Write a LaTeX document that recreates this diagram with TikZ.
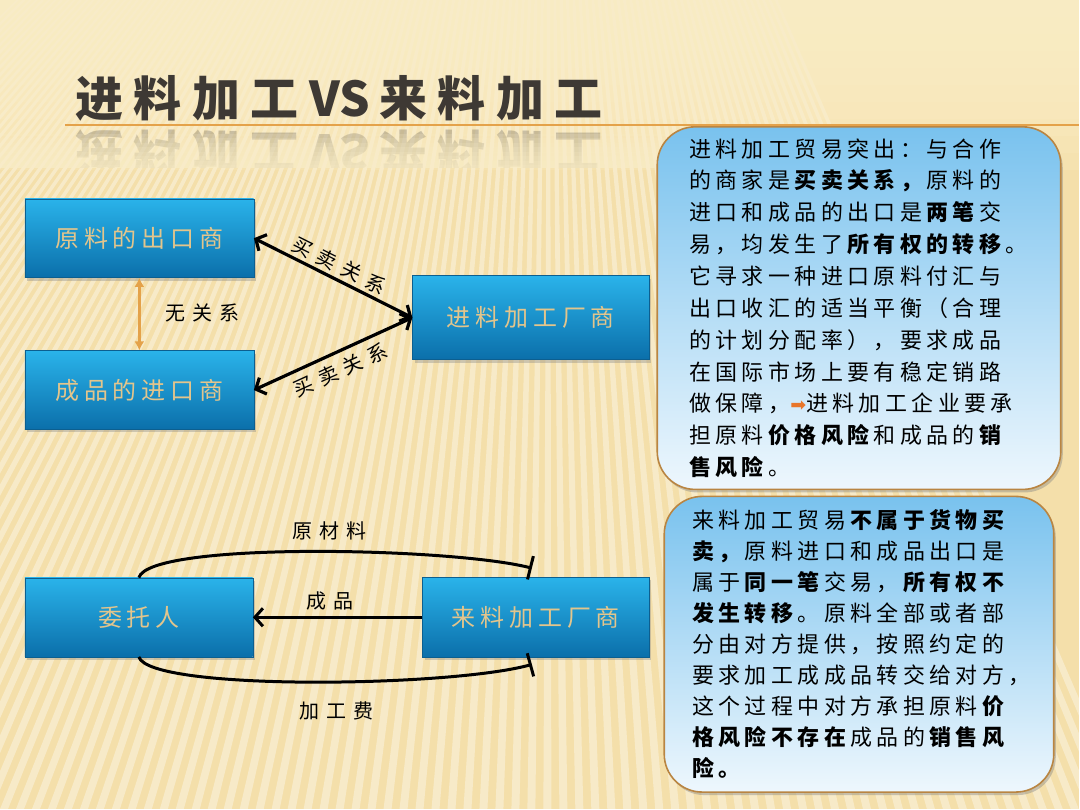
\documentclass[tikz,border=0pt]{standalone}
\usepackage{fontspec}
\setmainfont{Noto Sans CJK SC}
\newfontfamily\cjk[LetterSpace=20]{Noto Sans CJK SC}
\newfontfamily\cjkwide[LetterSpace=36]{Noto Sans CJK SC}
\newfontfamily\titlefont[LetterSpace=22]{Noto Sans CJK SC}
\newfontfamily\titlelatin{Noto Sans CJK SC}
\newfontfamily\symfont{DejaVu Sans}
\usetikzlibrary{positioning,arrows.meta,shadows}

\definecolor{bgcream}{HTML}{F4DFAA}
\definecolor{bgtop}{HTML}{FCEFC8}
\definecolor{boxtop}{HTML}{2AB3EA}
\definecolor{boxbot}{HTML}{0B6FAA}
\definecolor{boxedge}{HTML}{0C5F90}
\definecolor{boxtext}{HTML}{E3C58C}
\definecolor{notetop}{HTML}{79C2EE}
\definecolor{notebot}{HTML}{EEF7FD}
\definecolor{noteedge}{HTML}{B98542}
\definecolor{titlegray}{HTML}{3E3934}
\definecolor{rulecolor}{HTML}{E4A24A}
\definecolor{bulletorange}{HTML}{E8762A}

\newcommand{\slidetitle}{进料加工\hspace{11pt}{\titlelatin VS}\hspace{9pt}来料加工}

\begin{document}
\begin{tikzpicture}[x=1pt, y=1pt, >=Latex,
  bluebox/.style={draw=boxedge, top color=boxtop, bottom color=boxbot, minimum width=229pt, minimum height=79pt, inner sep=0pt, text=boxtext, font=\cjk\fontsize{24}{28}\selectfont, drop shadow={opacity=.35, shadow xshift=2pt, shadow yshift=-3pt}},
  note/.style={rounded corners=38pt, draw=noteedge, line width=1.6pt, top color=notetop, bottom color=notebot, inner sep=0pt, align=left, text=black, drop shadow={opacity=.4, shadow xshift=2pt, shadow yshift=-3pt}},
  lbl/.style={inner sep=0pt, font=\cjkwide\fontsize{20}{24}\selectfont},
  trade/.style={line width=3.2pt, {Straight Barb[length=8pt,width=18pt]}-{Straight Barb[length=8pt,width=18pt]}},
  flow/.style={line width=3pt, -{Bar[width=24pt]}}]

  % background
  \fill[bgcream] (0,0) rectangle (1080,810);
  \begin{scope}
    \clip (0,0) rectangle (1080,810);
    \foreach \x in {-800,-784,...,1120}
      \fill[white, opacity=.36] (\x,0) -- ++(8,0) -- (550,1340) -- cycle;
  \end{scope}
  \foreach \i in {0,...,9}
    \fill[bgtop, opacity=.2] (0,{640+17*\i}) rectangle (1080,810);

  % title
  \node[anchor=base west, inner sep=0pt, text=titlegray, font=\titlefont\bfseries\fontsize{48}{52}\selectfont] (title) at (75,693) {\slidetitle};
  \begin{scope}
    \clip (0,642) rectangle (700,684);
    \node[anchor=base west, inner sep=0pt, yscale=-1, transform shape, text=titlegray, opacity=.25, font=\titlefont\bfseries\fontsize{48}{52}\selectfont] (titlerefl) at (75,675) {\slidetitle};
    \foreach \i in {0,...,7}
      \fill[bgtop, opacity=.18] (0,642) rectangle (700,{676-4.5*\i});
  \end{scope}
  \draw[rulecolor, line width=2.5pt] (65,685) -- (1080,685);

  % 进料加工
  \node[bluebox] (ylck) at (139.5,571.5) {原料的出口商};
  \node[bluebox] (cpjk) at (139.5,419.5) {成品的进口商};
  \node[bluebox, minimum width=237pt, minimum height=84pt] (jlcs) at (531.5,492) {进料加工厂商};

  \draw[rulecolor, line width=3pt, {Latex[length=9pt,width=10pt]}-{Latex[length=9pt,width=10pt]}] (ylck.south) -- (cpjk.north);
  \node[lbl] (wgx) at (203,497) {无关系};
  \draw[trade] (ylck.east) -- node[lbl, sloped, above=3pt] (mmgx1) {买卖关系} (jlcs.west);
  \draw[trade] (cpjk.east) -- node[lbl, sloped, below=7pt] (mmgx2) {买卖关系} (jlcs.west);

  % 来料加工
  \node[bluebox, minimum width=228pt] (wtr) at (139,192) {委托人};
  \node[bluebox, minimum width=227pt, minimum height=80pt] (llcs) at (536.5,192) {来料加工厂商};
  \coordinate (yclend) at ([shift={(-4pt,9pt)}]llcs.north);
  \coordinate (jgfend) at ([shift={(-4pt,-7pt)}]llcs.south);

  \draw[flow] (wtr.north) .. controls (150,268) and (450,262) .. (yclend);
  \draw[flow] (wtr.south) .. controls (150,118) and (450,122) .. (jgfend);
  \draw[line width=3pt, -{Straight Barb[length=8pt,width=18pt]}] (llcs.west) -- node[lbl, above=6pt, xshift=-8pt] (cp) {成品} (wtr.east);
  \node[lbl] (ycl) at (330,278) {原材料};
  \node[lbl] (jgf) at (337,98) {加工费};

  % notes
  \node[note, minimum width=404pt, minimum height=363pt, text width=340pt, font=\cjk\fontsize{22}{31.9}\selectfont] (jlnote) at (860,501.5) {进料加工贸易突出：与合作\\
的商家是\textbf{买卖关系，}原料的\\
进口和成品的出口是\textbf{两笔}交\\
易，均发生了\textbf{所有权的转移}。\\
它寻求一种进口原料付汇与\\
出口收汇的适当平衡（合理\\
的计划分配率），要求成品\\
在国际市场上要有稳定销路\\
做保障，{\symfont\fontsize{19}{19}\selectfont\textcolor{bulletorange}{➡}}进料加工企业要承\\
担原料\textbf{价格风险}和成品的\textbf{销}\\
\textbf{售风险}。};

  \node[note, minimum width=390pt, minimum height=296pt, text width=334pt, font=\cjk\fontsize{22}{31.1}\selectfont] (llnote) at (860,165) {来料加工贸易\textbf{不属于货物买}\\
\textbf{卖，}原料进口和成品出口是\\
属于\textbf{同一笔}交易，\textbf{所有权不}\\
\textbf{发生转移}。原料全部或者部\\
分由对方提供，按照约定的\\
要求加工成成品转交给对方，\\
这个过程中对方承担原料\textbf{价}\\
\textbf{格风险不存在}成品的\textbf{销售风}\\
\textbf{险。}};
\end{tikzpicture}
\end{document}
